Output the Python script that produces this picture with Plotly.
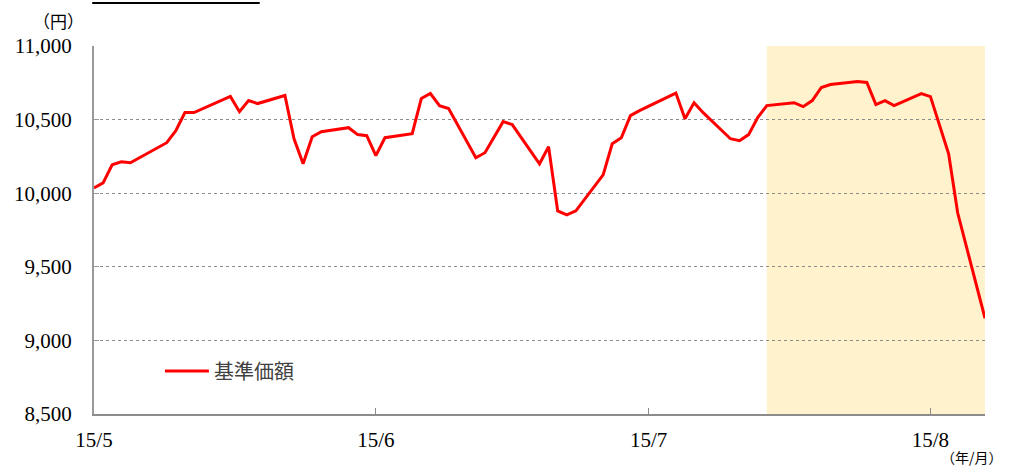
import plotly.graph_objects as go

dates = ["2015-05-01","2015-05-02","2015-05-03","2015-05-04","2015-05-05","2015-05-09","2015-05-10","2015-05-11","2015-05-12","2015-05-16",
         "2015-05-17","2015-05-18","2015-05-19","2015-05-22","2015-05-23","2015-05-24","2015-05-25","2015-05-26","2015-05-29","2015-05-30",
         "2015-05-31","2015-06-01","2015-06-02","2015-06-05","2015-06-06","2015-06-07","2015-06-08","2015-06-09","2015-06-12","2015-06-13",
         "2015-06-15","2015-06-16","2015-06-19","2015-06-20","2015-06-21","2015-06-22","2015-06-23","2015-06-26","2015-06-27","2015-06-28",
         "2015-06-29","2015-06-30","2015-07-04","2015-07-05","2015-07-06","2015-07-07","2015-07-10","2015-07-11","2015-07-12","2015-07-13",
         "2015-07-14","2015-07-17","2015-07-18","2015-07-19","2015-07-20","2015-07-21","2015-07-24","2015-07-25","2015-07-26","2015-07-27",
         "2015-07-28","2015-07-31","2015-08-01","2015-08-03","2015-08-04","2015-08-07"]
nav = [10036,10070,10193,10213,10207,10343,10425,10548,10548,10657,
       10554,10630,10609,10664,10370,10200,10384,10418,10445,10398,
       10391,10255,10377,10404,10643,10677,10595,10575,10241,10275,
       10486,10466,10200,10316,9880,9853,9880,10125,10336,10377,
       10527,10561,10680,10506,10615,10547,10370,10357,10398,10514,
       10595,10615,10588,10629,10718,10738,10759,10752,10602,10629,
       10595,10677,10656,10268,9865,9150]

series_name = "基準価額"
x_range = ["2015-05-01", "2015-08-07"]
x_tickvals = ["2015-05-01", "2015-06-01", "2015-07-01", "2015-08-01"]
x_ticktext = ["15/5", "15/6", "15/7", "15/8"]
y_tickvals = [8500, 9000, 9500, 10000, 10500, 11000]
y_ticktext = ["8,500", "9,000", "9,500", "10,000", "10,500", "11,000"]
shade_start = "2015-07-14"
shade_end = "2015-08-07"

serif = "Liberation Serif, Noto Sans CJK JP, serif"
cjk = "Noto Sans CJK JP, sans-serif"

fig = go.Figure()
fig.add_trace(go.Scatter(x=dates, y=nav, mode="lines", name=series_name,
                         line=dict(color="#FF0000", width=3), showlegend=True))

fig.add_shape(type="rect", xref="x", yref="paper", x0=shade_start, x1=shade_end,
              y0=0, y1=1, fillcolor="#FFF2CC", line=dict(width=0), layer="below")
# cropped title underline at the very top
fig.add_shape(type="line", xref="paper", yref="paper", x0=-0.002, x1=0.186,
              y0=1.117, y1=1.117, line=dict(color="#000000", width=2))

fig.update_layout(
    width=1010, height=468,
    margin=dict(l=94, r=25, t=46, b=54),
    paper_bgcolor="white", plot_bgcolor="white",
    font=dict(family=serif, size=21, color="#000000"),
    showlegend=True,
    legend=dict(x=0.074, y=0.117, xanchor="left", yanchor="middle",
                bgcolor="rgba(0,0,0,0)", font=dict(family=cjk, size=20, color="#404040"),
                itemwidth=44),
    xaxis=dict(type="date", range=x_range, tickmode="array", tickvals=x_tickvals,
               ticktext=x_ticktext, showgrid=False, zeroline=False,
               showline=True, linecolor="#8c8c8c", linewidth=2,
               ticks="inside", ticklen=6, tickcolor="#8c8c8c", tickwidth=1,
               tickfont=dict(family=serif, size=21, color="#000000"),
               ticklabelstandoff=6),
    yaxis=dict(range=[8500, 11000], tickmode="array", tickvals=y_tickvals,
               ticktext=y_ticktext, showgrid=True, gridcolor="#8c8c8c",
               griddash="dot", gridwidth=1, zeroline=False,
               showline=True, linecolor="#999999", linewidth=2,
               ticks="inside", ticklen=5, tickcolor="#999999",
               tickfont=dict(family=serif, size=21, color="#000000"),
               ticklabelstandoff=16),
    annotations=[
        dict(text="（円）", xref="paper", yref="paper", x=-0.04, y=1.068,
             showarrow=False, font=dict(family=cjk, size=17, color="#000000"),
             xanchor="center", yanchor="middle"),
        dict(text="（年/月）", xref="paper", yref="paper", x=1.022, y=-0.116,
             showarrow=False, font=dict(family=cjk, size=14, color="#000000"),
             xanchor="right", yanchor="middle"),
    ],
)

fig.write_html("out.html", config={"displayModeBar": False},
               post_script="document.body.style.margin='0';document.body.style.overflow='hidden';")
